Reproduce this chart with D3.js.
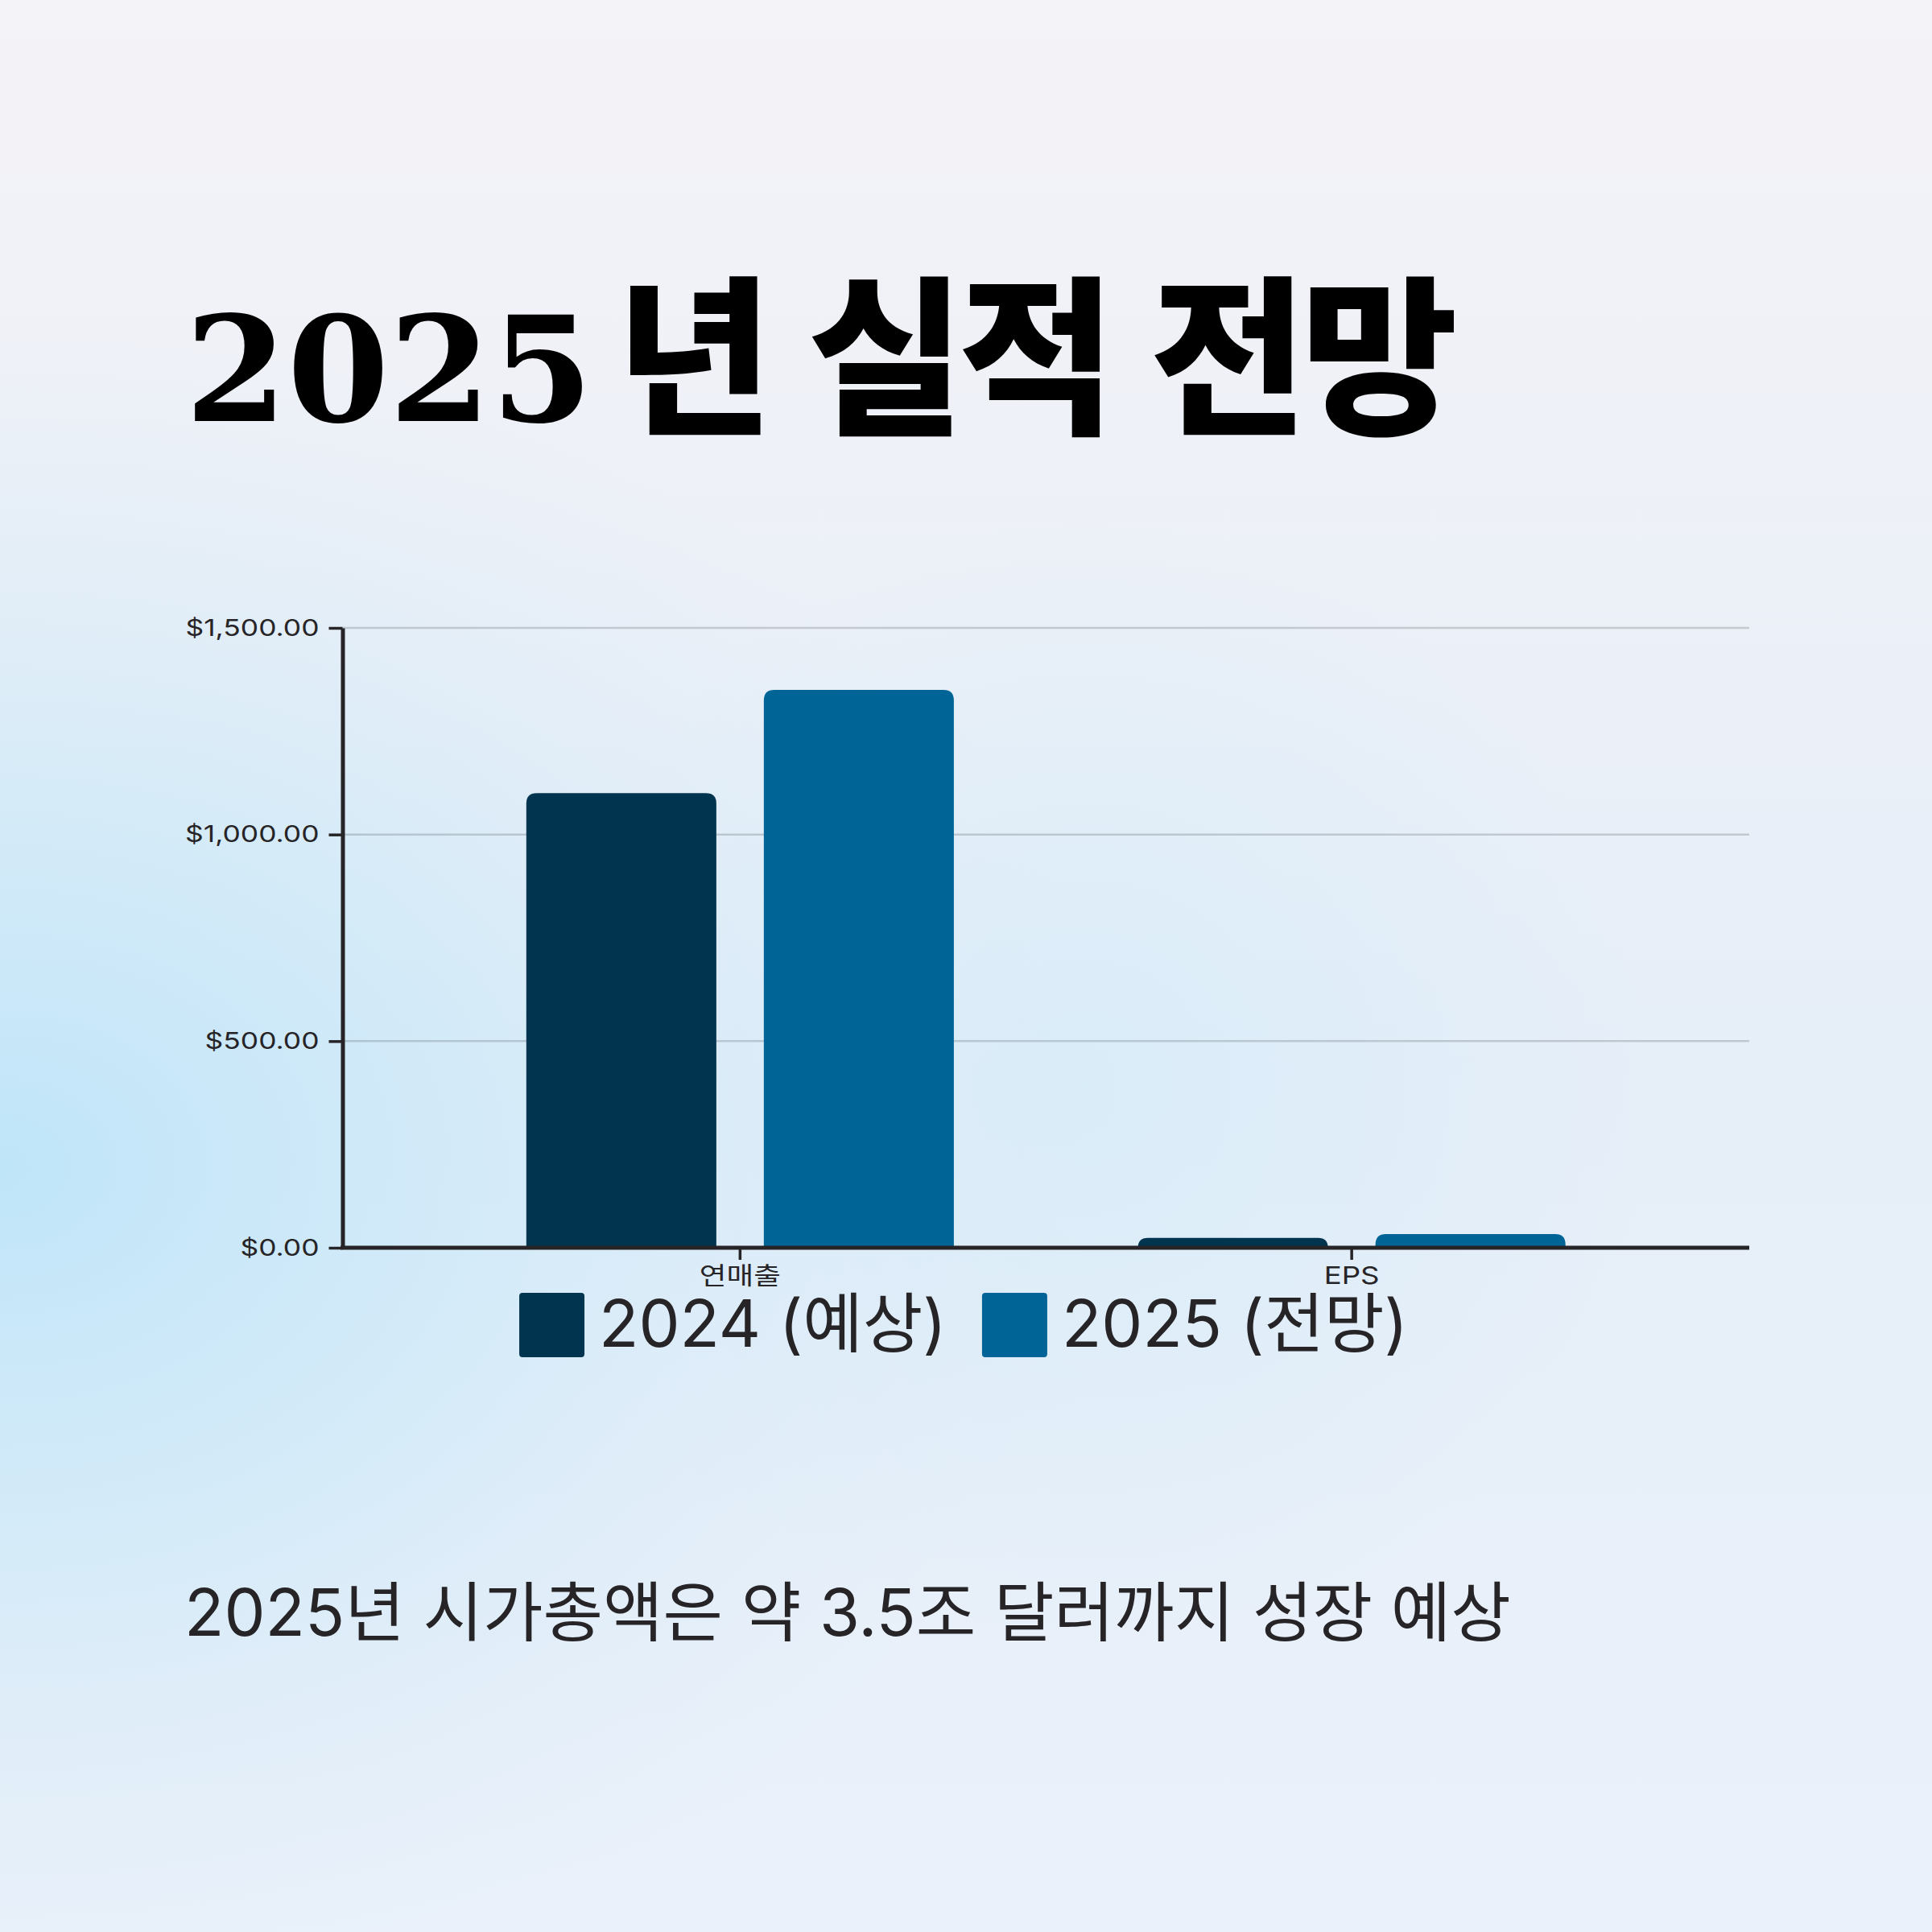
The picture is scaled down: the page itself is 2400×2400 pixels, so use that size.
<!DOCTYPE html>
<html lang="ko">
<head>
<meta charset="utf-8">
<title>2025년 실적 전망</title>
<script src="https://cdn.jsdelivr.net/npm/d3@7"></script>
<style>
  html, body { margin: 0; padding: 0; background: #eef1f7; }
  svg { display: block; }
</style>
</head>
<body>
<svg id="board" width="2400" height="2400"></svg>
<script>
"use strict";

// chart data
const categories = ["연매출", "EPS"];
const series = ["2024 (예상)", "2025 (전망)"];
const values2024 = [1100, 24];
const values2025 = [1350, 33];
const yTicks = [0, 500, 1000, 1500];
const seriesColors = ["#00344f", "#006496"];

const TITLE_NUM = "2025";
const TITLE_KO = "년 실적 전망";
const FOOTNOTE = "2025년 시가총액은 약 3.5조 달러까지 성장 예상";

const CHART = (function() {
  const SANS = "Inter, 'Noto Sans CJK KR', sans-serif";
  const INK = "#262426";
  const TICK_STRETCH = 1.22; // tick labels in the picture are drawn wider than they are tall
  var _width = 2400;
  var _height = 2400;
  var _plot = { left: 425.5, right: 2173, top: 780, bottom: 1550 };

  var _root = d3.select("#board");

  function drawBackground() {
    var defs = _root.append("defs");
    var lin = defs.append("linearGradient").attr("id", "bgLin")
      .attr("x1", 0).attr("y1", 0).attr("x2", 0).attr("y2", 1);
    lin.append("stop").attr("offset", "0%").attr("stop-color", "#f4f3f7");
    lin.append("stop").attr("offset", "55%").attr("stop-color", "#e6eef8");
    lin.append("stop").attr("offset", "100%").attr("stop-color", "#eaf1fa");

    var glow = defs.append("radialGradient").attr("id", "bgGlow")
      .attr("gradientUnits", "userSpaceOnUse")
      .attr("cx", 0).attr("cy", 1450).attr("r", 1400)
      .attr("gradientTransform", "translate(0,1450) scale(1,0.75) translate(0,-1450)");
    glow.append("stop").attr("offset", "0%").attr("stop-color", "#bfe5f9").attr("stop-opacity", 1);
    glow.append("stop").attr("offset", "45%").attr("stop-color", "#cde9f8").attr("stop-opacity", 0.7);
    glow.append("stop").attr("offset", "100%").attr("stop-color", "#dcebf8").attr("stop-opacity", 0);

    var glow2 = defs.append("radialGradient").attr("id", "bgGlow2")
      .attr("gradientUnits", "userSpaceOnUse")
      .attr("cx", 1350).attr("cy", 1350).attr("r", 700);
    glow2.append("stop").attr("offset", "0%").attr("stop-color", "#d6ecf9").attr("stop-opacity", 0.8);
    glow2.append("stop").attr("offset", "100%").attr("stop-color", "#d6ecf9").attr("stop-opacity", 0);

    _root.append("rect").attr("width", _width).attr("height", _height).attr("fill", "url(#bgLin)");
    _root.append("rect").attr("width", _width).attr("height", _height).attr("fill", "url(#bgGlow2)");
    _root.append("rect").attr("width", _width).attr("height", _height).attr("fill", "url(#bgGlow)");
  }

  function drawTitle() {
    var t = _root.append("text").attr("x", 230).attr("y", 523).attr("fill", "#000");
    t.append("tspan")
      .attr("font-family", "'DejaVu Serif', serif")
      .attr("font-weight", 700)
      .attr("font-size", 182)
      .text(TITLE_NUM);
    t.append("tspan")
      .attr("x", 765)
      .attr("font-family", "'Noto Sans CJK KR', sans-serif")
      .attr("font-weight", 900)
      .attr("font-size", 212)
      .attr("letter-spacing", -8)
      .text(TITLE_KO);
  }

  // rounded top corners only, bottom sits on the axis
  function barPath(x, y, w, h, r) {
    r = Math.min(r, h, w / 2);
    return "M" + x + "," + (y + h) +
      "V" + (y + r) +
      "Q" + x + "," + y + " " + (x + r) + "," + y +
      "H" + (x + w - r) +
      "Q" + (x + w) + "," + y + " " + (x + w) + "," + (y + r) +
      "V" + (y + h) + "Z";
  }

  function stretchText(sel) {
    sel.each(function() {
      var len = this.getComputedTextLength();
      d3.select(this)
        .attr("textLength", len * TICK_STRETCH)
        .attr("lengthAdjust", "spacingAndGlyphs");
    });
  }

  function drawChart() {
    var x0 = d3.scaleBand().domain(categories)
      .range([_plot.left, _plot.right])
      .paddingInner(0.301).paddingOuter(0.3005);
    var x1 = d3.scaleBand().domain(series)
      .range([0, x0.bandwidth()])
      .paddingInner(0.2);
    var y = d3.scaleLinear().domain([0, 1500]).range([_plot.bottom, _plot.top]);
    var color = d3.scaleOrdinal().domain(series).range(seriesColors);

    var rows = categories.map(function(c, i) {
      return { category: c, values: [
        { key: series[0], value: values2024[i] },
        { key: series[1], value: values2025[i] }
      ] };
    });

    // grid
    _root.append("g").selectAll("line")
      .data(yTicks.filter(function(d) { return d > 0; }))
      .join("line")
      .attr("x1", _plot.left).attr("x2", _plot.right)
      .attr("y1", function(d) { return y(d); })
      .attr("y2", function(d) { return y(d); })
      .attr("stroke", "#000").attr("stroke-opacity", 0.16).attr("stroke-width", 2.5);

    // bars
    _root.append("g").selectAll("g")
      .data(rows)
      .join("g")
      .attr("transform", function(d) { return "translate(" + x0(d.category) + ",0)"; })
      .selectAll("path")
      .data(function(d) { return d.values; })
      .join("path")
      .attr("fill", function(d) { return color(d.key); })
      .attr("d", function(d) {
        return barPath(x1(d.key), y(d.value), x1.bandwidth(), y(0) - y(d.value), 13);
      });

    // y axis
    var yAxis = _root.append("g")
      .attr("transform", "translate(" + _plot.left + ",0)")
      .call(d3.axisLeft(y).tickValues(yTicks).tickFormat(d3.format("$,.2f"))
        .tickSize(17).tickSizeOuter(0).tickPadding(12));
    yAxis.select(".domain").attr("stroke", INK).attr("stroke-width", 5);
    yAxis.selectAll(".tick line").attr("stroke", INK).attr("stroke-width", 3.5);
    yAxis.selectAll(".tick text")
      .attr("fill", INK).attr("font-family", SANS).attr("font-size", 29)
      .call(stretchText);

    // x axis
    var xAxis = _root.append("g")
      .attr("transform", "translate(0," + _plot.bottom + ")")
      .call(d3.axisBottom(x0).tickSize(15).tickSizeOuter(0).tickPadding(9));
    xAxis.select(".domain").attr("stroke", INK).attr("stroke-width", 5)
      .attr("d", "M" + (_plot.left - 2.5) + ",0H" + _plot.right);
    xAxis.selectAll(".tick line").attr("stroke", INK).attr("stroke-width", 3.5);
    xAxis.selectAll(".tick text")
      .attr("fill", INK).attr("font-family", SANS).attr("font-size", 30)
      .call(stretchText);

    drawLegend(color);
  }

  function drawLegend(color) {
    var box = 81, gapText = 18, gapItem = 44, top = 1606;
    var g = _root.append("g");
    var items = g.selectAll("g").data(series).join("g");
    items.append("rect")
      .attr("width", box).attr("height", box - 1).attr("rx", 4)
      .attr("y", top)
      .attr("fill", function(d) { return color(d); });
    items.append("text")
      .attr("x", box + gapText).attr("y", top + 67)
      .attr("fill", INK).attr("font-family", SANS).attr("font-size", 81)
      .text(function(d) { return d; });

    var widths = [];
    items.select("text").each(function() {
      widths.push(box + gapText + this.getComputedTextLength());
    });
    var total = d3.sum(widths) + gapItem * (widths.length - 1);
    var cursor = 1197 - total / 2;
    items.attr("transform", function(d, i) {
      var tx = cursor;
      cursor += widths[i] + gapItem;
      return "translate(" + tx + ",0)";
    });
  }

  function drawFootnote() {
    _root.append("text")
      .attr("x", 229).attr("y", 2032)
      .attr("fill", INK).attr("font-family", SANS).attr("font-size", 81)
      .text(FOOTNOTE);
  }

  return {
    render: function() {
      drawBackground();
      drawTitle();
      drawChart();
      drawFootnote();
    }
  };
}());

CHART.render();
</script>
</body>
</html>
